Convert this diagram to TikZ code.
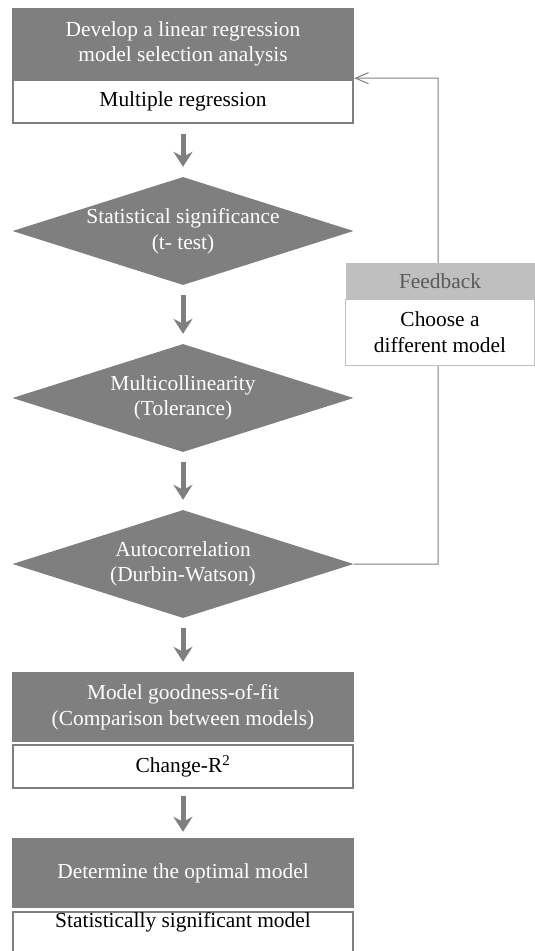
\documentclass[tikz,border=0pt]{standalone}
\usepackage{fontspec}
\setmainfont{Liberation Serif}
\usetikzlibrary{shapes.geometric,arrows.meta}
\definecolor{darkbox}{HTML}{7F7F7F}
\definecolor{lightbox}{HTML}{BFBFBF}
\definecolor{fbtext}{HTML}{595959}
\begin{document}
\begin{tikzpicture}[x=1pt, y=-1pt,
    every node/.style={font=\fontsize{21.4}{25.5}\selectfont, align=center, inner sep=0pt},
    head/.style={rectangle, fill=darkbox, text=white, minimum width=342pt, minimum height=70pt},
    sub/.style={rectangle, draw=darkbox, line width=1.6pt, fill=white, minimum width=340pt, minimum height=43pt},
    check/.style={diamond, fill=darkbox, text=white, aspect=3.16, minimum width=341pt, minimum height=108pt},
    flow/.style={-{Stealth[length=15pt,width=19pt,inset=5pt]}, line width=5pt, darkbox, shorten <=10pt, shorten >=10pt},
    fbline/.style={draw=darkbox, line width=1pt, -{Straight Barb[length=13pt,width=11pt]}}]
    \useasboundingbox (0,0) rectangle (535,951);
    % Nodes
    \node[head, minimum height=72pt] (dev) at (183,44) {Develop a linear regression\\model selection analysis};
    \node[sub] (mult) at (183,101.5) {Multiple regression};
    \node[check] (sig) at (183,231) {Statistical significance\\(t- test)};
    \node[check] (coll) at (183,398) {Multicollinearity\\(Tolerance)};
    \node[check] (auto) at (183,564) {Autocorrelation\\(Durbin-Watson)};
    \node[head] (fit) at (183,707) {Model goodness-of-fit\\(Comparison between models)};
    \node[sub] (chg) at (183,766.5) {Change-R\textsuperscript{2}};
    \node[head] (opt) at (183,873) {Determine the optimal model};
    \node[sub, anchor=north, text height=15pt, text depth=26pt] (final) at (183,911) {Statistically significant model};
    % Edges
    \draw[flow] (mult) -- (sig);
    \draw[flow] (sig) -- (coll);
    \draw[flow] (coll) -- (auto);
    \draw[flow] (auto) -- (fit);
    \draw[flow, shorten <=7pt, shorten >=6pt] (chg) -- (opt);
    % Feedback loop
    \coordinate (fbtop) at (438,78);
    \draw[fbline] (auto.east) -| (fbtop) -- ([yshift=2pt]dev.south east);
    \node[fill=lightbox, text=fbtext, minimum width=189pt, minimum height=36pt] (fb) at (440,281) {Feedback};
    \node[draw=lightbox, fill=white, line width=1pt, minimum width=189pt, minimum height=66pt] (choose) at (440,332) {Choose a\\different model};
\end{tikzpicture}
\end{document}
